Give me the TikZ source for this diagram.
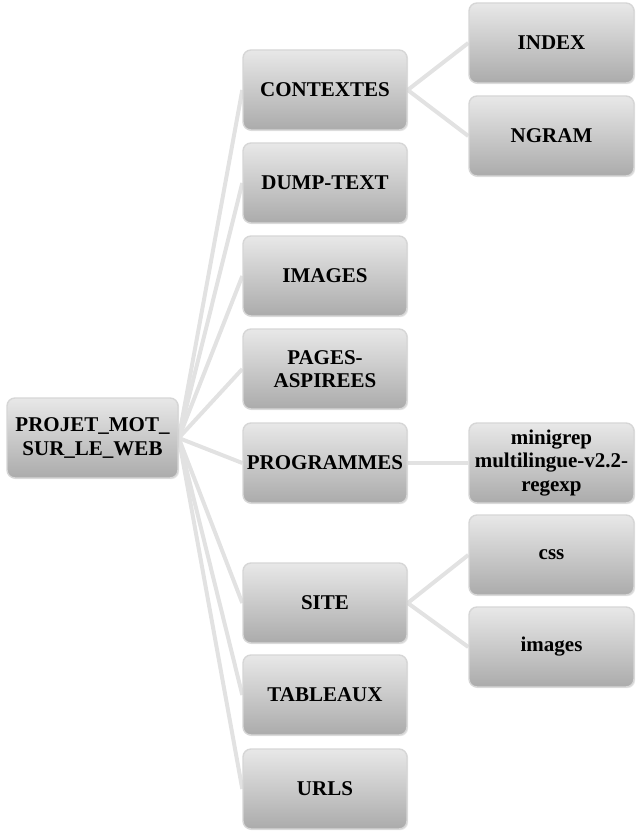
\documentclass[tikz,border=0pt]{standalone}
\usepackage{fontspec}
\setmainfont{Liberation Serif}
\usetikzlibrary{shadows,backgrounds}
\definecolor{linkgray}{HTML}{E2E2E2}
\definecolor{boxtop}{HTML}{E8E8E8}
\definecolor{boxbot}{HTML}{ABABAB}
\definecolor{boxedge}{HTML}{D6D6D6}
\tikzset{
  box/.style={rectangle, rounded corners=8pt, top color=boxtop, bottom color=boxbot,
    draw=boxedge, line width=1.4pt, minimum height=80pt, inner sep=0pt, align=center,
    font=\fontsize{21}{23.5}\selectfont\bfseries,
    drop shadow={opacity=0.18, shadow xshift=1.2pt, shadow yshift=-1.2pt}},
  midbox/.style={box, minimum width=164pt},
  rightbox/.style={box, minimum width=165pt},
  link/.style={draw=linkgray, line width=4pt}
}
\begin{document}
\begin{tikzpicture}[x=1pt, y=-1pt]
\useasboundingbox (0,0) rectangle (641,837);
% root
\node[box, minimum width=171pt] (root) at (92.5,438) {PROJET\_MOT\_\\SUR\_LE\_WEB};
% middle column
\node[midbox] (ctx)   at (325,90)  {CONTEXTES};
\node[midbox] (dump)  at (325,183) {DUMP-TEXT};
\node[midbox] (img)   at (325,276) {IMAGES};
\node[midbox] (pages) at (325,369) {PAGES-\\ASPIREES};
\node[midbox] (prog)  at (325,463) {PROGRAMMES};
\node[midbox] (site)  at (325,603) {SITE};
\node[midbox] (tab)   at (325,695) {TABLEAUX};
\node[midbox] (urls)  at (325,789) {URLS};
% right column
\node[rightbox] (index) at (551.5,43)  {INDEX};
\node[rightbox] (ngram) at (551.5,136) {NGRAM};
\node[rightbox] (mini)  at (551.5,463) {minigrep\\multilingue-v2.2-\\regexp};
\node[rightbox] (css)   at (551.5,555) {css};
\node[rightbox] (imgs)  at (551.5,647) {images};
% connectors
\begin{scope}[on background layer]
\foreach \t in {ctx,dump,img,pages,prog,site,tab,urls}
  \draw[link] (root.east) -- (\t.west);
\draw[link] (ctx.east) -- (index.west);
\draw[link] (ctx.east) -- (ngram.west);
\draw[link] (prog.east) -- (mini.west);
\draw[link] (site.east) -- (css.west);
\draw[link] (site.east) -- (imgs.west);
\end{scope}
\end{tikzpicture}
\end{document}
